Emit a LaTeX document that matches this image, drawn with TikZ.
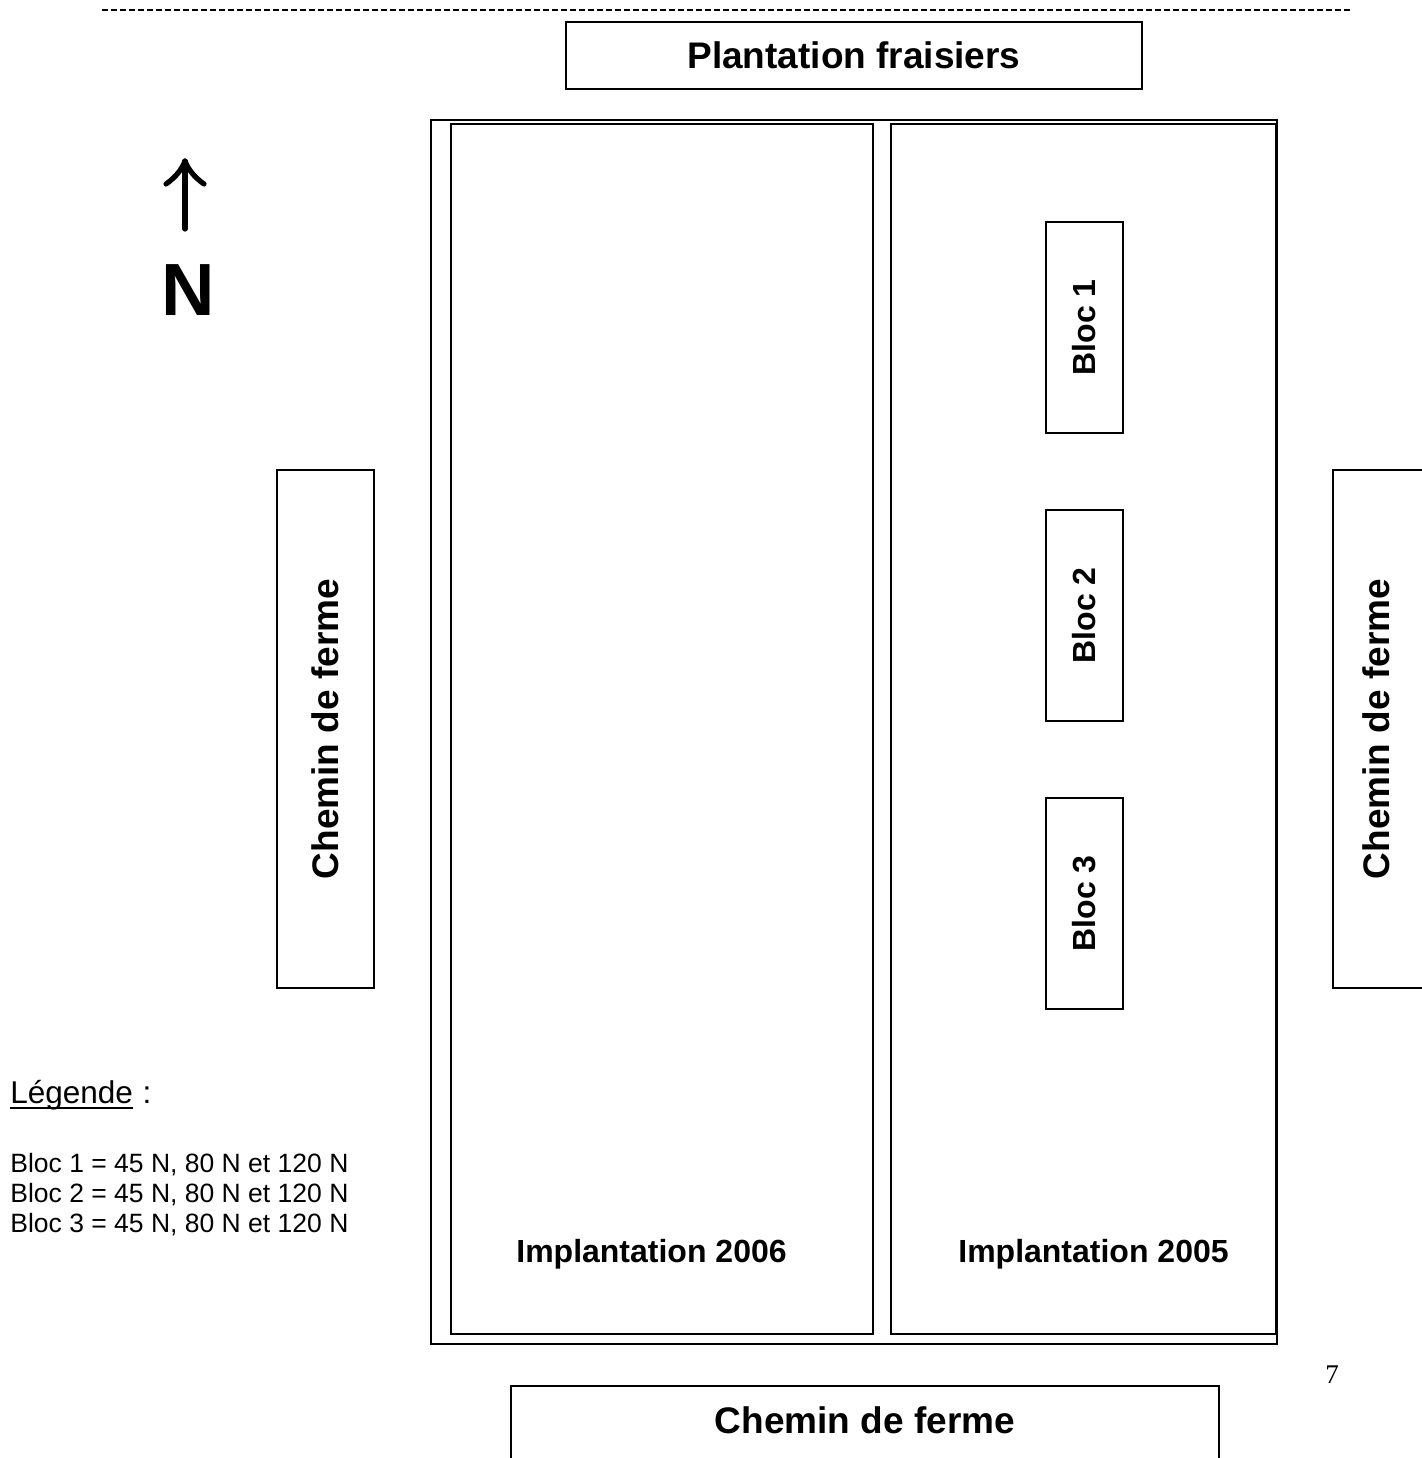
\documentclass[tikz,border=0pt]{standalone}
\usepackage{fontspec}
\setmainfont{Liberation Sans}
\newfontfamily\pagenumfont{Liberation Serif}
\begin{document}
\begin{tikzpicture}[x=0.5pt,y=-0.5pt,
  box/.style={draw,line width=1pt,inner sep=0pt},
  frame/.style={draw,line width=0.9pt},
  bigtxt/.style={font=\fontsize{18.5}{22}\selectfont\bfseries,inner sep=0pt},
  midtxt/.style={font=\fontsize{16}{19}\selectfont\bfseries,inner sep=0pt},
  legtxt/.style={font=\fontsize{13.25}{15}\selectfont,inner sep=0pt,anchor=base west},
  northarrow/.style={line width=2.6pt,line cap=round,line join=round},
  vert/.style={rotate=90}]
\useasboundingbox (0,0) rectangle (1422,1458);
% top dashed rule
\coordinate (dashL) at (102,10);
\coordinate (dashR) at (1353,10);
\draw[line width=1pt,dash pattern=on 3pt off 1.5pt] (dashL) -- (dashR);
% Plantation fraisiers
\node[box,minimum width=288pt,minimum height=33.5pt] (plant) at (854,55.5) {};
\node[bigtxt] (planttxt) at (plant.center) {Plantation fraisiers};
% outer frame and plots
\node[frame,inner sep=0pt,minimum width=423pt,minimum height=612pt] (outer) at (854,732) {};
\node[frame,inner sep=0pt,minimum width=211pt,minimum height=605pt] (p2006) at (662,729) {};
\node[frame,inner sep=0pt,minimum width=192.5pt,minimum height=605pt] (p2005) at (1083.5,729) {};
\node[midtxt,anchor=base] (t2006) at (651.5,1262) {Implantation 2006};
\node[midtxt,anchor=base] (t2005) at (1093.5,1262) {Implantation 2005};
% blocs
\node[box,minimum width=38.5pt,minimum height=105.5pt] (b1) at (1084.5,327.5) {};
\node[box,minimum width=38.5pt,minimum height=105.5pt] (b2) at (1084.5,615.5) {};
\node[box,minimum width=38.5pt,minimum height=105.5pt] (b3) at (1084.5,903.5) {};
\node[midtxt,vert] (b1t) at (b1.center) {Bloc 1};
\node[midtxt,vert] (b2t) at (b2.center) {Bloc 2};
\node[midtxt,vert] (b3t) at (b3.center) {Bloc 3};
% farm paths
\node[box,minimum width=48.5pt,minimum height=259pt] (cl) at (325.5,729) {};
\node[bigtxt,vert] (clt) at (cl.center) {Chemin de ferme};
\node[box,minimum width=48.5pt,minimum height=259pt] (cr) at (1381.5,729) {};
\node[bigtxt,vert] (crt) at (1376,729) {Chemin de ferme};
\node[box,minimum width=354pt,minimum height=42pt] (cb) at (865,1428) {};
\node[bigtxt,anchor=base] (cbt) at (865,1433) {Chemin de ferme};
% north arrow
\coordinate (arrS) at (185,229);
\coordinate (arrN) at (185,161);
\coordinate (barbL) at (166,184);
\coordinate (barbR) at (204,184);
\draw[northarrow] (arrS) -- (arrN);
\draw[northarrow] (barbL) .. controls (176,177) and (182,169) .. (arrN) .. controls (188,169) and (194,177) .. (barbR);
\node[font=\fontsize{37}{40}\selectfont\bfseries,inner sep=0pt,anchor=base] (north) at (188.5,315) {N};
% legend
\node[font=\fontsize{15.75}{18}\selectfont,inner sep=0pt,anchor=base west] (leg) at (10,1103) {Légende};
\node[font=\fontsize{15.75}{18}\selectfont,inner sep=0pt,anchor=base west] (legc) at (leg.base east) {\ :};
\draw[line width=1pt] ([yshift=-2.6pt]leg.base west) -- ([yshift=-2.6pt]leg.base east);
\node[legtxt] (l1) at (10,1172) {Bloc 1 = 45 N, 80 N et 120 N};
\node[legtxt] (l2) at (10,1202) {Bloc 2 = 45 N, 80 N et 120 N};
\node[legtxt] (l3) at (10,1232) {Bloc 3 = 45 N, 80 N et 120 N};
% page number
\node[font=\pagenumfont\fontsize{13.5}{15}\selectfont,inner sep=0pt,anchor=base] (pg) at (1332,1383) {7};
\end{tikzpicture}
\end{document}
